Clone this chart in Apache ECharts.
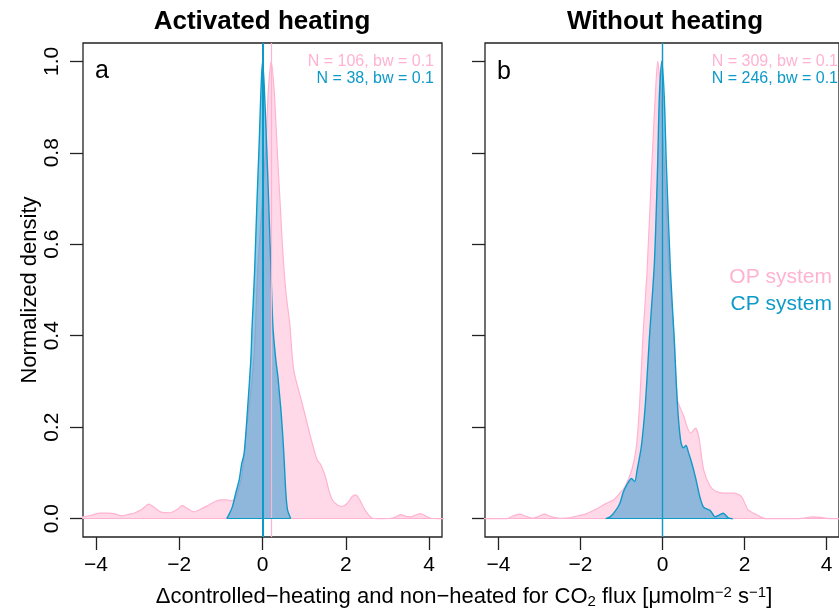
<!DOCTYPE html>
<html>
<head>
<meta charset="utf-8">
<script src="https://cdn.jsdelivr.net/npm/echarts@6/dist/echarts.min.js"></script>
<style>
  html, body { margin: 0; padding: 0; background: #fff; }
  #chart { width: 839px; height: 611px; }
</style>
</head>
<body>
<div id="chart"></div>
<script>
// tick positions
const X_TICKS = [-4, -2, 0, 2, 4]
const Y_TICKS = [0, 0.2, 0.4, 0.6, 0.8, 1.0]

// a: activated heating, OP system (pink)
const opActX = [-4.5,-4.31,-4.1,-3.9,-3.7,-3.57,-3.37,-3.2,-3.09,-2.9,-2.73,-2.6,-2.45,-2.21,-2.05,-1.93,-1.8,-1.65,-1.5,-1.33,-1.15,-1.01,-0.85,-0.77,-0.65,-0.6,-0.5,-0.38,-0.3,-0.2,-0.11,0.0,0.09,0.14,0.21,0.28,0.33,0.38,0.43,0.47,0.52,0.58,0.65,0.75,0.95,1.15,1.31,1.4,1.51,1.6,1.68,1.8,1.92,2.05,2.15,2.24,2.34,2.44,2.55,2.64,2.9,3.15,3.32,3.44,3.56,3.68,3.8,3.92,4.04,4.5]
const opActY = [0.002,0.004,0.008,0.012,0.012,0.011,0.006,0.010,0.012,0.02,0.032,0.025,0.015,0.013,0.02,0.029,0.022,0.015,0.02,0.028,0.037,0.041,0.041,0.039,0.045,0.057,0.092,0.2,0.26,0.36,0.55,0.7,0.83,0.937,1.0,0.937,0.85,0.76,0.68,0.61,0.54,0.48,0.43,0.325,0.253,0.18,0.129,0.118,0.092,0.06,0.041,0.03,0.027,0.035,0.048,0.052,0.04,0.022,0.008,0.001,0,0.002,0.009,0.005,0.004,0.008,0.011,0.006,0.001,0]
// a: activated heating, CP system (blue)
const cpActX = [-0.86,-0.8,-0.72,-0.64,-0.56,-0.5,-0.44,-0.36,-0.28,-0.25,-0.19,-0.13,-0.08,-0.04,0,0.04,0.08,0.13,0.19,0.25,0.32,0.37,0.40,0.44,0.48,0.52,0.56,0.6,0.68]
const cpActY = [0,0.01,0.027,0.057,0.085,0.12,0.143,0.238,0.347,0.42,0.54,0.7,0.82,0.93,1.0,0.95,0.86,0.74,0.58,0.42,0.347,0.31,0.28,0.24,0.19,0.129,0.057,0.02,0]
// b: without heating, OP system
const opNoX = [-4.5,-3.8,-3.65,-3.49,-3.33,-3.17,-3.02,-2.88,-2.7,-2.5,-2.28,-2.04,-1.88,-1.64,-1.36,-1.2,-1.05,-0.92,-0.75,-0.64,-0.56,-0.48,-0.38,-0.26,-0.18,-0.12,-0.06,0.0,0.08,0.16,0.28,0.36,0.44,0.52,0.6,0.68,0.8,0.88,1.0,1.16,1.3,1.48,1.72,1.92,2.08,2.28,2.52,3.2,3.5,3.65,3.85,4.05,4.5]
const opNoY = [0,0,0.006,0.01,0.005,0.001,0.005,0.01,0.004,0.001,0.002,0.007,0.01,0.02,0.034,0.041,0.055,0.07,0.107,0.157,0.252,0.398,0.54,0.777,0.922,1.0,0.95,0.85,0.7,0.544,0.398,0.26,0.24,0.223,0.2,0.187,0.198,0.18,0.107,0.071,0.06,0.056,0.056,0.049,0.02,0.009,0,0,0.002,0.004,0.003,0,0]
// b: without heating, CP system
const cpNoX = [-1.39,-1.28,-1.16,-1.04,-0.96,-0.88,-0.76,-0.68,-0.62,-0.52,-0.42,-0.32,-0.2,-0.12,-0.08,-0.02,0.04,0.09,0.19,0.28,0.36,0.44,0.5,0.57,0.63,0.7,0.8,0.91,1.0,1.16,1.28,1.38,1.48,1.6,1.71]
const cpNoY = [0,0.004,0.016,0.034,0.058,0.073,0.088,0.081,0.107,0.157,0.252,0.398,0.56,0.777,0.922,1.0,0.922,0.777,0.544,0.398,0.252,0.17,0.155,0.16,0.145,0.125,0.091,0.047,0.025,0.018,0.004,0.008,0.012,0.002,0]

// vertical reference lines
const opActMed = 0.21
const cpActMed = 0
const opNoMed = 0
const cpNoMed = 0

const panelTitles = ['Activated heating', 'Without heating']
const panelLetters = ['a', 'b']
const opNotes = ['N = 106, bw = 0.1', 'N = 309, bw = 0.1']
const cpNotes = ['N = 38, bw = 0.1', 'N = 246, bw = 0.1']
const legendNames = ['OP system', 'CP system']

const FONT = '"Liberation Sans", Arial, Helvetica, sans-serif'
const PINK_LINE = '#FFB3D1'
const PINK_FILL = '#FFD9E8'
const BLUE_LINE = '#0E9AC9'
const BLUE_FILL = 'rgba(30,150,205,0.5)'

const zip = (xs, ys) => xs.map((x, i) => [x, ys[i]])
const minus = v => String(v).replace('-', '\u2212')

const grids = [
    {left: 83, top: 43, width: 359, height: 494},
    {left: 485, top: 43, width: 359, height: 494},
]
const xRanges = [[-4.31, 4.31], [-4.33, 4.30]]

const xAxes = grids.map((g, i) => ({
    type: 'value', gridIndex: i, min: xRanges[i][0], max: xRanges[i][1],
    splitLine: {show: false},
    axisLine: {show: false, onZero: false},
    axisTick: {show: true, length: 13, customValues: X_TICKS, lineStyle: {color: '#222', width: 1.3}},
    axisLabel: {customValues: X_TICKS, formatter: minus, fontSize: 21, color: '#000', margin: 18, fontFamily: FONT}
}))
const yAxes = grids.map((g, i) => ({
    type: 'value', gridIndex: i, min: -0.04, max: 1.04,
    splitLine: {show: false},
    axisLine: {show: false, onZero: false},
    axisTick: {show: true, length: 13, customValues: Y_TICKS, lineStyle: {color: '#222', width: 1.3}},
    axisLabel: {show: i === 0, customValues: Y_TICKS, rotate: 90, formatter: v => v.toFixed(1),
        fontSize: 21, color: '#000', margin: 20, fontFamily: FONT},
    name: i === 0 ? 'Normalized density' : '',
    nameLocation: 'middle', nameRotate: 90, nameGap: 42,
    nameTextStyle: {fontSize: 22, color: '#000', fontFamily: FONT}
}))

const densitySeries = (idx, xs, ys, med, isOp, medWidth) => ({
    type: 'line', xAxisIndex: idx, yAxisIndex: idx,
    data: zip(xs, ys), symbol: 'none', smooth: 0.25, z: isOp ? 2 : 3,
    lineStyle: {color: isOp ? PINK_LINE : BLUE_LINE, width: isOp ? 1.2 : 1.4},
    areaStyle: {color: isOp ? PINK_FILL : BLUE_FILL, opacity: 1},
    markLine: {
        silent: true, symbol: 'none', animation: false,
        label: {show: false},
        lineStyle: {color: isOp ? PINK_LINE : BLUE_LINE, width: 1.2, type: 'solid'},
        data: [
            {xAxis: med, lineStyle: {width: medWidth}},
            isOp ? {yAxis: 0} : [{coord: [xs[0], 0]}, {coord: [xs[xs.length - 1], 0]}]
        ]
    }
})

const series = [
    densitySeries(0, opActX, opActY, opActMed, true, 1.2),
    densitySeries(0, cpActX, cpActY, cpActMed, false, 2),
    densitySeries(1, opNoX, opNoY, opNoMed, true, 1.2),
    densitySeries(1, cpNoX, cpNoY, cpNoMed, false, 1.4),
]

const txt = (x, y, text, size, color, align, weight) => ({
    type: 'text', x, y, z: 10,
    style: {text, fontSize: size, fill: color, align: align || 'left', verticalAlign: 'middle',
        fontWeight: weight || 'normal', fontFamily: FONT}
})

const graphics = [
    txt(262, 22, panelTitles[0], 26, '#000', 'center', 'bold'),
    txt(665, 22, panelTitles[1], 26, '#000', 'center', 'bold'),
    txt(95, 71, panelLetters[0], 25, '#000'),
    txt(497, 72, panelLetters[1], 25, '#000'),
    txt(434, 62, opNotes[0], 16, PINK_LINE, 'right'),
    txt(434, 79, cpNotes[0], 16, BLUE_LINE, 'right'),
    txt(838, 62, opNotes[1], 16, PINK_LINE, 'right'),
    txt(838, 79, cpNotes[1], 16, BLUE_LINE, 'right'),
    txt(832, 277, legendNames[0], 21, PINK_LINE, 'right'),
    txt(832, 304, legendNames[1], 21, BLUE_LINE, 'right'),
    {
        type: 'text', x: 464, y: 597, z: 10,
        style: {
            text: '{n|\u0394controlled\u2212heating and non\u2212heated for CO}{sub|2}{n| flux [\u03bcmolm}{sup|\u22122}{n| s}{sup|\u22121}{n|]}',
            align: 'center', verticalAlign: 'middle', fill: '#000',
            rich: {
                n: {fontSize: 22, fontFamily: FONT, lineHeight: 24, verticalAlign: 'middle'},
                sub: {fontSize: 15, fontFamily: FONT, lineHeight: 15, verticalAlign: 'bottom'},
                sup: {fontSize: 15, fontFamily: FONT, lineHeight: 6, verticalAlign: 'top'}
            }
        }
    }
]

const chart = echarts.init(document.getElementById('chart'), null, {renderer: 'canvas'})
chart.setOption({
    animation: false,
    backgroundColor: '#fff',
    grid: grids.map(g => Object.assign({show: true, borderColor: '#222', borderWidth: 1.3, backgroundColor: 'transparent'}, g)),
    xAxis: xAxes,
    yAxis: yAxes,
    series,
    graphic: graphics
})
</script>
</body>
</html>
